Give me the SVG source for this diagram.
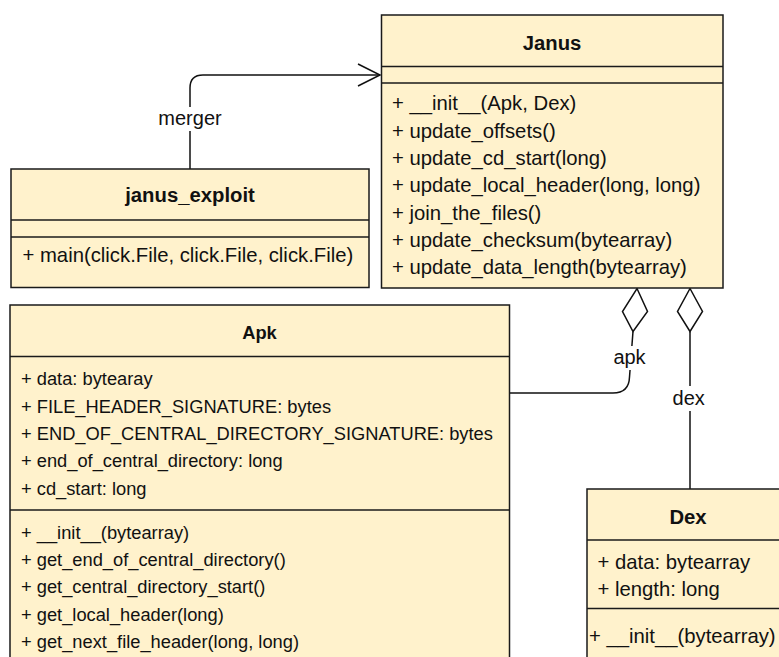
<svg xmlns="http://www.w3.org/2000/svg" width="779" height="657" viewBox="0 0 779 657">
  <style>
    .box { fill: #fff2cc; stroke: #1a1a1a; stroke-width: 1.5; }
    .sep { stroke: #1a1a1a; stroke-width: 1.5; fill: none; }
    .t { font-family: "Liberation Sans", Arial, sans-serif; font-size: 20.3px; fill: #111; }
    .small { font-size: 18.3px; }
    .title { font-weight: bold; text-anchor: middle; }
    .edge { stroke: #111; stroke-width: 1.5; fill: none; }
    .lbl-bg { fill: #ffffff; }
    .lbl { font-family: "Liberation Sans", Arial, sans-serif; font-size: 20px; fill: #111; text-anchor: middle; }
  </style>
  <rect width="779" height="657" fill="#ffffff"/>

  <!-- connectors -->
  <g id="connectors">
    <!-- janus_exploit -> Janus (merger) -->
    <path class="edge" d="M190,169 V88 Q190,75 203,75 H380"/>
    <polyline class="edge" points="358,64 380,75 358,86"/>
    <rect class="lbl-bg" x="158" y="107" width="64" height="24"/>
    <text class="lbl" x="190" y="125">merger</text>

    <!-- Janus <>- Apk (apk) -->
    <polygon class="edge" points="637,288.5 647.5,311.5 633,331.5 622.5,311.5"/>
    <path class="edge" d="M633,331.5 L629.5,377 Q629,393 613,393 H510"/>
    <rect class="lbl-bg" x="611.5" y="346" width="36" height="24"/>
    <text class="lbl" x="629.5" y="364">apk</text>

    <!-- Janus <>- Dex (dex) -->
    <polygon class="edge" points="690,288.5 702.5,311.5 690,331.5 677.5,311.5"/>
    <path class="edge" d="M690,331.5 V489"/>
    <rect class="lbl-bg" x="671" y="386" width="36" height="25"/>
    <text class="lbl" x="688.7" y="405">dex</text>
  </g>

  <!-- Janus class -->
  <g id="janus">
    <rect class="box" x="381.5" y="15" width="341.5" height="273"/>
    <line class="sep" x1="381.5" y1="66.5" x2="723" y2="66.5"/>
    <line class="sep" x1="381.5" y1="83" x2="723" y2="83"/>
    <text class="t title" x="552" y="50">Janus</text>
    <text class="t" x="392" y="110.3">+ __init__(Apk, Dex)</text>
    <text class="t" x="392" y="137.6">+ update_offsets()</text>
    <text class="t" x="392" y="165">+ update_cd_start(long)</text>
    <text class="t" x="392" y="192.3">+ update_local_header(long, long)</text>
    <text class="t" x="392" y="219.6">+ join_the_files()</text>
    <text class="t" x="392" y="247">+ update_checksum(bytearray)</text>
    <text class="t" x="392" y="274.3">+ update_data_length(bytearray)</text>
  </g>

  <!-- janus_exploit class -->
  <g id="janus_exploit">
    <rect class="box" x="11" y="169" width="358" height="118.5"/>
    <line class="sep" x1="11" y1="220" x2="369" y2="220"/>
    <line class="sep" x1="11" y1="237" x2="369" y2="237"/>
    <text class="t title" x="190" y="201.5">janus_exploit</text>
    <text class="t" x="22.5" y="261.5">+ main(click.File, click.File, click.File)</text>
  </g>

  <!-- Apk class -->
  <g id="apk">
    <rect class="box" x="10" y="305" width="499.5" height="370"/>
    <line class="sep" x1="10" y1="356.5" x2="509.5" y2="356.5"/>
    <line class="sep" x1="10" y1="510" x2="509.5" y2="510"/>
    <text class="t small title" x="259.5" y="339">Apk</text>
    <text class="t small" x="21" y="385">+ data: bytearay</text>
    <text class="t small" x="21" y="412.5">+ FILE_HEADER_SIGNATURE: bytes</text>
    <text class="t small" x="21" y="440">+ END_OF_CENTRAL_DIRECTORY_SIGNATURE: bytes</text>
    <text class="t small" x="21" y="467.3">+ end_of_central_directory: long</text>
    <text class="t small" x="21" y="494.6">+ cd_start: long</text>
    <text class="t small" x="21" y="539">+ __init__(bytearray)</text>
    <text class="t small" x="21" y="566">+ get_end_of_central_directory()</text>
    <text class="t small" x="21" y="593.3">+ get_central_directory_start()</text>
    <text class="t small" x="21" y="620.6">+ get_local_header(long)</text>
    <text class="t small" x="21" y="647.6">+ get_next_file_header(long, long)</text>
  </g>

  <!-- Dex class -->
  <g id="dex">
    <rect class="box" x="587" y="489" width="210" height="200"/>
    <line class="sep" x1="587" y1="540" x2="797" y2="540"/>
    <line class="sep" x1="587" y1="608.5" x2="797" y2="608.5"/>
    <text class="t title" x="688" y="524">Dex</text>
    <text class="t" x="597.5" y="569">+ data: bytearray</text>
    <text class="t" x="597.5" y="596">+ length: long</text>
    <text class="t" x="589" y="643">+ __init__(bytearray)</text>
  </g>
</svg>
